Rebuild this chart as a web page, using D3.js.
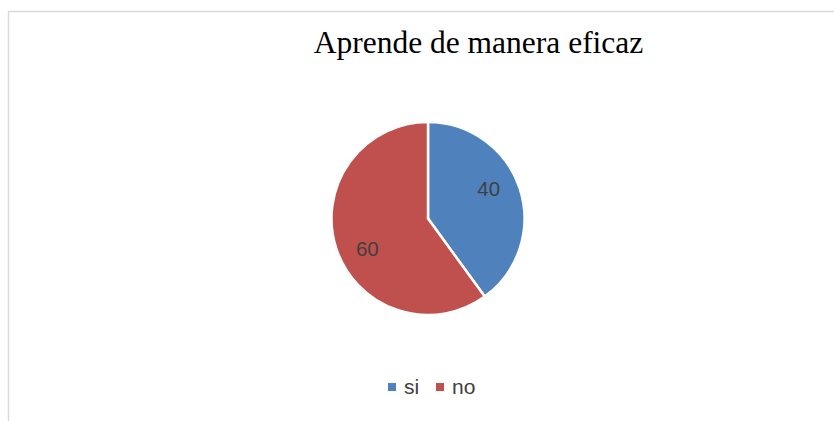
<!DOCTYPE html>
<html>
<head>
<meta charset="utf-8">
<script src="https://cdn.jsdelivr.net/npm/d3@7"></script>
<style>
  html, body { margin: 0; padding: 0; background: #fff; }
  svg { display: block; }
</style>
</head>
<body>
<svg id="chart" width="834" height="421"></svg>
<script>
const title = "Aprende de manera eficaz";
const categories = ["si", "no"];
const values = [40, 60];
const colors = ["#4f81bd", "#c0504d"];

const svg = d3.select("#chart");

// chart border (extends past right/bottom of the view)
svg.append("rect")
  .attr("x", 8.5).attr("y", 11.5)
  .attr("width", 900).attr("height", 500)
  .attr("fill", "#fff")
  .attr("stroke", "#d9d9d9")
  .attr("stroke-width", 1.5);

svg.append("text")
  .attr("x", 478.5).attr("y", 53)
  .attr("text-anchor", "middle")
  .attr("font-family", "'Liberation Serif', 'Times New Roman', serif")
  .attr("font-size", 31.5)
  .attr("fill", "#000")
  .text(title);

const cx = 428, cy = 218.5, r = 96.5;
const pie = d3.pie().sort(null).value(d => d)(values);
const arc = d3.arc().innerRadius(0).outerRadius(r);

const g = svg.append("g").attr("transform", `translate(${cx},${cy})`);
g.selectAll("path").data(pie).join("path")
  .attr("d", arc)
  .attr("fill", (d, i) => colors[i])
  .attr("stroke", "#fff")
  .attr("stroke-width", 2.5)
  .attr("stroke-linejoin", "miter");

const labelR = 0.7 * r;
g.selectAll("text.lbl").data(pie).join("text")
  .attr("class", "lbl")
  .attr("x", d => { const a = (d.startAngle + d.endAngle) / 2 - 0.14; return Math.sin(a) * labelR; })
  .attr("y", d => { const a = (d.startAngle + d.endAngle) / 2 - 0.14; return -Math.cos(a) * labelR; })
  .attr("dy", "0.36em")
  .attr("text-anchor", "middle")
  .attr("font-family", "'Liberation Sans', Arial, sans-serif")
  .attr("font-size", 20.5)
  .attr("fill", "#404040")
  .text(d => d.data);

// legend
const legendX = [388, 436];
const lg = svg.append("g");
categories.forEach((c, i) => {
  lg.append("rect")
    .attr("x", legendX[i]).attr("y", 383)
    .attr("width", 8).attr("height", 8)
    .attr("fill", colors[i]);
  lg.append("text")
    .attr("x", legendX[i] + 16).attr("y", 394)
    .attr("font-family", "'Liberation Sans', Arial, sans-serif")
    .attr("font-size", 21)
    .attr("fill", "#404040")
    .text(c);
});
</script>
</body>
</html>
